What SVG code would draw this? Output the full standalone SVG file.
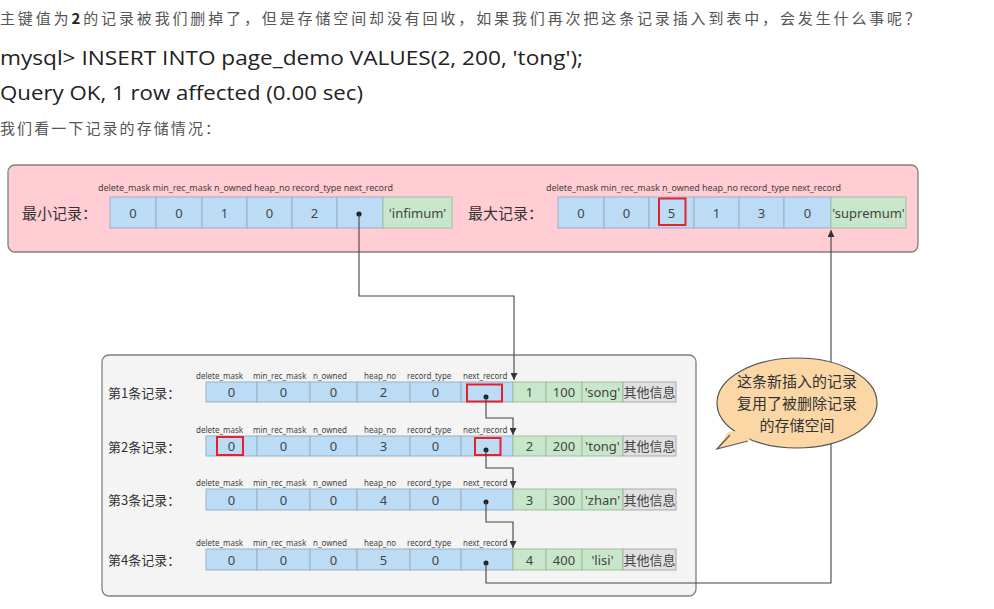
<svg xmlns="http://www.w3.org/2000/svg" width="994" height="609" viewBox="0 0 994 609">
<defs>
<marker id="ah" viewBox="0 0 10 10" refX="10" refY="5" markerWidth="7" markerHeight="7" markerUnits="userSpaceOnUse" orient="auto"><path d="M0,0 L10,5 L0,10 z" fill="#333"/></marker>
<style>
.t{font-family:"Noto Sans","Noto Sans CJK SC",sans-serif;fill:#333}
.cjk{font-family:"Noto Sans CJK SC","Noto Sans",sans-serif}
.v{font-size:13px;text-anchor:middle;fill:#444}
.h{font-size:8px;fill:#444}
.hd{font-size:9px;fill:#444}
.b{fill:#bcdcf6;stroke:#9ab0c2;stroke-width:1}
.g{fill:#c8e6c9;stroke:#9fbfa0;stroke-width:1}
.o{fill:#e0e0e0;stroke:#aaa;stroke-width:1}
.red{fill:none;stroke:#e8202a;stroke-width:2}
.ln{fill:none;stroke:#444;stroke-width:1.1}
.dot{fill:#222}
.lbl{font-size:13px;fill:#333}
</style>
</defs>
<rect width="994" height="609" fill="#fff"/>

<g id="intro">
<text x="0" y="24" class="cjk" font-size="15" fill="#555" textLength="920" lengthAdjust="spacing">主键值为<tspan fill="#222" font-weight="bold">2</tspan>的记录被我们删掉了，但是存储空间却没有回收，如果我们再次把这条记录插入到表中，会发生什么事呢？</text>
<text x="0" y="65" font-family="'Open Sans','Noto Sans',sans-serif" font-size="20" fill="#222" textLength="583" lengthAdjust="spacingAndGlyphs">mysql&gt; INSERT INTO page_demo VALUES(2, 200, 'tong');</text>
<text x="0" y="100" font-family="'Open Sans','Noto Sans',sans-serif" font-size="20" fill="#222" textLength="363" lengthAdjust="spacingAndGlyphs">Query OK, 1 row affected (0.00 sec)</text>
<text x="0" y="134" class="cjk" font-size="15" fill="#555" textLength="220" lengthAdjust="spacing">我们看一下记录的存储情况：</text>
</g>

<g id="page-header">
<rect x="8" y="165" width="910" height="87" rx="7" fill="#ffcdd3" stroke="#808080" stroke-width="1.3"/>
</g>

<g id="min-record" class="t">
<text x="22" y="219" class="cjk" font-size="15" fill="#333">最小记录：</text>
<text x="98" y="191" class="hd" textLength="295" lengthAdjust="spacing">delete_mask min_rec_mask n_owned heap_no record_type  next_record</text>
<rect x="110" y="197" width="46" height="31" class="b"/>
<rect x="156" y="197" width="46" height="31" class="b"/>
<rect x="202" y="197" width="45" height="31" class="b"/>
<rect x="247" y="197" width="45" height="31" class="b"/>
<rect x="292" y="197" width="45" height="31" class="b"/>
<rect x="337" y="197" width="46" height="31" class="b"/>
<rect x="383" y="197" width="69" height="31" class="g"/>
<text x="133" y="218" class="v">0</text>
<text x="179" y="218" class="v">0</text>
<text x="224.5" y="218" class="v">1</text>
<text x="269.5" y="218" class="v">0</text>
<text x="314.5" y="218" class="v">2</text>
<circle cx="359" cy="214" r="2.6" class="dot"/>
<text x="417.5" y="218" class="v">'infimum'</text>
</g>

<g id="max-record" class="t">
<text x="468" y="219" class="cjk" font-size="15" fill="#333">最大记录：</text>
<text x="546" y="191" class="hd" textLength="295" lengthAdjust="spacing">delete_mask min_rec_mask n_owned heap_no record_type  next_record</text>
<rect x="558" y="197" width="46" height="31" class="b"/>
<rect x="604" y="197" width="45" height="31" class="b"/>
<rect x="649" y="197" width="45" height="31" class="b"/>
<rect x="694" y="197" width="45" height="31" class="b"/>
<rect x="739" y="197" width="45" height="31" class="b"/>
<rect x="784" y="197" width="47" height="31" class="b"/>
<rect x="831" y="197" width="75" height="31" class="g"/>
<text x="581" y="218" class="v">0</text>
<text x="626.5" y="218" class="v">0</text>
<text x="671.5" y="218" class="v">5</text>
<text x="716.5" y="218" class="v">1</text>
<text x="761.5" y="218" class="v">3</text>
<text x="807.5" y="218" class="v">0</text>
<text x="868.5" y="218" class="v">'supremum'</text>
<rect x="659" y="198.5" width="26.5" height="26.5" class="red"/>
</g>

<g id="page-body">
<rect x="102" y="355" width="594" height="241" rx="7" fill="#f4f4f4" stroke="#808080" stroke-width="1.3"/>
</g>

<g id="record-1" class="t">
<text x="108" y="398" class="lbl cjk">第1条记录：</text>
<text y="379" class="h"><tspan x="196">delete_mask</tspan><tspan x="253">min_rec_mask</tspan><tspan x="313">n_owned</tspan><tspan x="364">heap_no</tspan><tspan x="407">record_type</tspan><tspan x="463">next_record</tspan></text>
<rect x="206" y="382" width="51" height="20" class="b"/><rect x="257" y="382" width="53" height="20" class="b"/><rect x="310" y="382" width="47" height="20" class="b"/><rect x="357" y="382" width="53" height="20" class="b"/><rect x="410" y="382" width="51" height="20" class="b"/><rect x="461" y="382" width="52" height="20" class="b"/>
<rect x="513" y="382" width="33" height="20" class="g"/><rect x="546" y="382" width="36" height="20" class="g"/><rect x="582" y="382" width="41" height="20" class="g"/><rect x="623" y="382" width="53" height="20" class="o"/>
<text x="231.5" y="397" class="v">0</text><text x="283.5" y="397" class="v">0</text><text x="333.5" y="397" class="v">0</text><text x="383.5" y="397" class="v">2</text><text x="435.5" y="397" class="v">0</text>
<circle cx="486" cy="397" r="2.5" class="dot"/>
<text x="529.5" y="397" class="v">1</text><text x="564" y="397" class="v">100</text><text x="602.5" y="397" class="v">'song'</text><text x="649.5" y="397" class="v cjk">其他信息</text>
<rect x="467" y="384.5" width="35" height="17" class="red"/>
</g>

<g id="record-2" class="t">
<text x="108" y="452" class="lbl cjk">第2条记录：</text>
<text y="433" class="h"><tspan x="196">delete_mask</tspan><tspan x="253">min_rec_mask</tspan><tspan x="313">n_owned</tspan><tspan x="364">heap_no</tspan><tspan x="407">record_type</tspan><tspan x="463">next_record</tspan></text>
<rect x="206" y="436" width="51" height="20" class="b"/><rect x="257" y="436" width="53" height="20" class="b"/><rect x="310" y="436" width="47" height="20" class="b"/><rect x="357" y="436" width="53" height="20" class="b"/><rect x="410" y="436" width="51" height="20" class="b"/><rect x="461" y="436" width="52" height="20" class="b"/>
<rect x="513" y="436" width="33" height="20" class="g"/><rect x="546" y="436" width="36" height="20" class="g"/><rect x="582" y="436" width="41" height="20" class="g"/><rect x="623" y="436" width="53" height="20" class="o"/>
<text x="231.5" y="451" class="v">0</text><text x="283.5" y="451" class="v">0</text><text x="333.5" y="451" class="v">0</text><text x="383.5" y="451" class="v">3</text><text x="435.5" y="451" class="v">0</text>
<circle cx="486" cy="450" r="2.5" class="dot"/>
<text x="529.5" y="451" class="v">2</text><text x="564" y="451" class="v">200</text><text x="602.5" y="451" class="v">'tong'</text><text x="649.5" y="451" class="v cjk">其他信息</text>
<rect x="217" y="437" width="26" height="18" class="red"/>
<rect x="475" y="438" width="25.5" height="17" class="red"/>
</g>

<g id="record-3" class="t">
<text x="108" y="505" class="lbl cjk">第3条记录：</text>
<text y="486" class="h"><tspan x="196">delete_mask</tspan><tspan x="253">min_rec_mask</tspan><tspan x="313">n_owned</tspan><tspan x="364">heap_no</tspan><tspan x="407">record_type</tspan><tspan x="463">next_record</tspan></text>
<rect x="206" y="489" width="51" height="21" class="b"/><rect x="257" y="489" width="53" height="21" class="b"/><rect x="310" y="489" width="47" height="21" class="b"/><rect x="357" y="489" width="53" height="21" class="b"/><rect x="410" y="489" width="51" height="21" class="b"/><rect x="461" y="489" width="52" height="21" class="b"/>
<rect x="513" y="489" width="33" height="21" class="g"/><rect x="546" y="489" width="36" height="21" class="g"/><rect x="582" y="489" width="41" height="21" class="g"/><rect x="623" y="489" width="53" height="21" class="o"/>
<text x="231.5" y="504.5" class="v">0</text><text x="283.5" y="504.5" class="v">0</text><text x="333.5" y="504.5" class="v">0</text><text x="383.5" y="504.5" class="v">4</text><text x="435.5" y="504.5" class="v">0</text>
<circle cx="486" cy="502" r="2.5" class="dot"/>
<text x="529.5" y="504.5" class="v">3</text><text x="564" y="504.5" class="v">300</text><text x="602.5" y="504.5" class="v">'zhan'</text><text x="649.5" y="504.5" class="v cjk">其他信息</text>
</g>

<g id="record-4" class="t">
<text x="108" y="565" class="lbl cjk">第4条记录：</text>
<text y="546" class="h"><tspan x="196">delete_mask</tspan><tspan x="253">min_rec_mask</tspan><tspan x="313">n_owned</tspan><tspan x="364">heap_no</tspan><tspan x="407">record_type</tspan><tspan x="463">next_record</tspan></text>
<rect x="206" y="549" width="51" height="21" class="b"/><rect x="257" y="549" width="53" height="21" class="b"/><rect x="310" y="549" width="47" height="21" class="b"/><rect x="357" y="549" width="53" height="21" class="b"/><rect x="410" y="549" width="51" height="21" class="b"/><rect x="461" y="549" width="52" height="21" class="b"/>
<rect x="513" y="549" width="33" height="21" class="g"/><rect x="546" y="549" width="36" height="21" class="g"/><rect x="582" y="549" width="41" height="21" class="g"/><rect x="623" y="549" width="53" height="21" class="o"/>
<text x="231.5" y="564.5" class="v">0</text><text x="283.5" y="564.5" class="v">0</text><text x="333.5" y="564.5" class="v">0</text><text x="383.5" y="564.5" class="v">5</text><text x="435.5" y="564.5" class="v">0</text>
<circle cx="486" cy="563" r="2.5" class="dot"/>
<text x="529.5" y="564.5" class="v">4</text><text x="564" y="564.5" class="v">400</text><text x="602.5" y="564.5" class="v">'lisi'</text><text x="649.5" y="564.5" class="v cjk">其他信息</text>
</g>

<g id="connectors">
<polyline points="359,214 359,296 514,296 514,380" class="ln" marker-end="url(#ah)"/>
<polyline points="486,397 486,418 513,418 513,435" class="ln" marker-end="url(#ah)"/>
<polyline points="486,450 486,468 513,468 513,488" class="ln" marker-end="url(#ah)"/>
<polyline points="486,502 486,522 513,522 513,548" class="ln" marker-end="url(#ah)"/>
<polyline points="486,563 486,583 831,583 831,230" class="ln" marker-end="url(#ah)"/>
</g>

<g id="callout">
<ellipse cx="797" cy="403" rx="80" ry="45" fill="#fbd7a6" stroke="#555" stroke-width="1.2"/>
<polygon points="728,432 717,449 750,440 745,430" fill="#fbd7a6"/>
<polyline points="730,435 717,449 748,441" fill="none" stroke="#555" stroke-width="1.2"/>
<text class="cjk" font-size="15" fill="#333" text-anchor="middle"><tspan x="797" y="387">这条新插入的记录</tspan><tspan x="797" y="409">复用了被删除记录</tspan><tspan x="797" y="431">的存储空间</tspan></text>
</g>
</svg>
